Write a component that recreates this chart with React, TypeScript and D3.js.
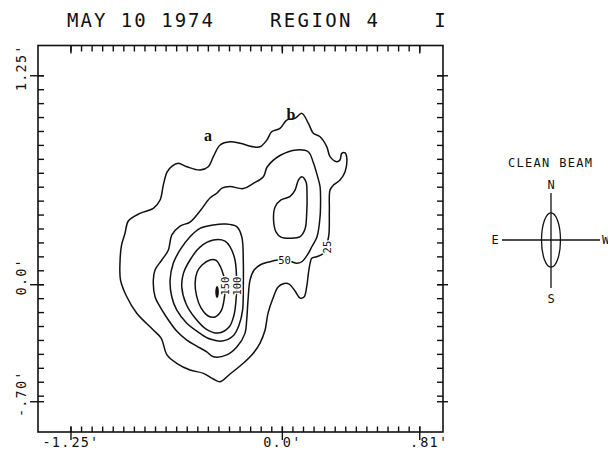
import React from "react";
import * as d3 from "d3";

// ---------- text ----------
const titleDate = "MAY 10 1974";
const titleRegion = "REGION 4";
const titlePanel = "I";
const beamTitle = "CLEAN BEAM";
const beamDirs = ["N", "S", "E", "W"];

// ---------- axes (arc-minutes) ----------
const xMajorTicks = [-1.25, 0.0, 0.8125];
const xMajorLabels = ["-1.25'", "0.0'", ".81'"];
const yMajorTicks = [1.25, 0.0, -0.7];
const yMajorLabels = ["1.25'", "0.0'", "-.70'"];
const xMinorStep = 0.0625;
const yMinorStep = 1 / 12;

// ---------- beam (arc-minutes, full widths) ----------
const beamMajor = 0.325;
const beamMinor = 0.112;

// ---------- contours (x, y in arc-minutes) ----------
const contour25: [number, number][] = [
  [-0.96, 0.136], [-0.951, 0.237], [-0.93, 0.309], [-0.911, 0.381], [-0.842, 0.427],
  [-0.763, 0.457], [-0.723, 0.507], [-0.704, 0.596], [-0.682, 0.674], [-0.652, 0.71],
  [-0.615, 0.726], [-0.565, 0.706], [-0.487, 0.686], [-0.438, 0.706], [-0.408, 0.766],
  [-0.368, 0.836], [-0.309, 0.855], [-0.25, 0.846], [-0.172, 0.825], [-0.132, 0.825],
  [-0.092, 0.865], [-0.063, 0.915], [-0.014, 0.935], [0.026, 0.985], [0.075, 0.995],
  [0.115, 1.025], [0.154, 0.965], [0.183, 0.906], [0.223, 0.885], [0.263, 0.825],
  [0.282, 0.766], [0.322, 0.736], [0.341, 0.746], [0.351, 0.786], [0.371, 0.789],
  [0.381, 0.758], [0.371, 0.676], [0.341, 0.626], [0.302, 0.596], [0.282, 0.566],
  [0.278, 0.447], [0.276, 0.307], [0.268, 0.261], [0.242, 0.188], [0.203, 0.167],
  [0.174, 0.158], [0.164, 0.128], [0.154, 0.068], [0.144, -0.012], [0.128, -0.074],
  [0.105, -0.08], [0.075, -0.038], [0.04, 0.004], [0.01, 0.007], [-0.025, -0.014],
  [-0.055, -0.08], [-0.085, -0.171], [-0.102, -0.271], [-0.132, -0.349], [-0.172, -0.41],
  [-0.231, -0.47], [-0.309, -0.534], [-0.368, -0.58], [-0.408, -0.564], [-0.467, -0.53],
  [-0.546, -0.51], [-0.625, -0.47], [-0.682, -0.42], [-0.717, -0.319], [-0.763, -0.271],
  [-0.861, -0.171], [-0.92, -0.072], [-0.957, 0.028],
];

const contour50: [number, number][] = [
  [-0.763, 0.028], [-0.753, 0.088], [-0.713, 0.148], [-0.674, 0.208], [-0.654, 0.297],
  [-0.605, 0.351], [-0.546, 0.375], [-0.487, 0.441], [-0.428, 0.519], [-0.388, 0.547],
  [-0.357, 0.578], [-0.309, 0.587], [-0.231, 0.575], [-0.172, 0.606], [-0.112, 0.646],
  [-0.09, 0.704], [-0.014, 0.773], [0.085, 0.806], [0.154, 0.794], [0.182, 0.734],
  [0.203, 0.666], [0.223, 0.586], [0.226, 0.507], [0.223, 0.407], [0.205, 0.287],
  [0.174, 0.227], [0.154, 0.188], [0.117, 0.139], [0.085, 0.128], [0.051, 0.139],
  [0.016, 0.148], [-0.025, 0.148], [-0.073, 0.138], [-0.132, 0.118], [-0.167, 0.088],
  [-0.191, 0.028], [-0.203, -0.092], [-0.211, -0.211], [-0.221, -0.291], [-0.268, -0.371],
  [-0.329, -0.42], [-0.408, -0.431], [-0.447, -0.402], [-0.506, -0.367], [-0.565, -0.331],
  [-0.625, -0.277], [-0.684, -0.196], [-0.723, -0.133], [-0.753, -0.072],
];

const contour50b: [number, number][] = [
  [0.115, 0.646], [0.095, 0.626], [0.075, 0.566], [0.046, 0.528], [-0.008, 0.507],
  [-0.043, 0.465], [-0.052, 0.387], [-0.037, 0.315], [-0.008, 0.285], [0.046, 0.278],
  [0.105, 0.287], [0.134, 0.333], [0.144, 0.427], [0.146, 0.536], [0.14, 0.614],
];

const contour75: [number, number][] = [
  [-0.664, 0.028], [-0.645, 0.128], [-0.605, 0.208], [-0.546, 0.287], [-0.487, 0.337],
  [-0.408, 0.357], [-0.339, 0.363], [-0.27, 0.347], [-0.24, 0.287], [-0.231, 0.148],
  [-0.231, -0.012], [-0.235, -0.151], [-0.256, -0.241], [-0.292, -0.307], [-0.357, -0.337],
  [-0.428, -0.325], [-0.487, -0.291], [-0.565, -0.231], [-0.625, -0.151], [-0.654, -0.072],
];

const contour100: [number, number][] = [
  [-0.595, -0.012], [-0.585, 0.068], [-0.546, 0.148], [-0.487, 0.225], [-0.408, 0.267],
  [-0.339, 0.261], [-0.309, 0.227], [-0.28, 0.148], [-0.27, 0.008], [-0.274, -0.092],
  [-0.286, -0.181], [-0.315, -0.253], [-0.38, -0.289], [-0.451, -0.265], [-0.516, -0.199],
  [-0.569, -0.115],
];

const contour150: [number, number][] = [
  [-0.516, 0.008], [-0.504, 0.076], [-0.475, 0.118], [-0.428, 0.148], [-0.392, 0.145],
  [-0.358, 0.088], [-0.339, 0.008], [-0.345, -0.092], [-0.362, -0.157], [-0.398, -0.193],
  [-0.439, -0.187], [-0.481, -0.139], [-0.507, -0.068],
];

const contours = [contour25, contour50, contour50b, contour75, contour100, contour150];

// peak marker
const peakX = -0.386;
const peakY = -0.044;

// contour labels
const cLabelText = ["25", "50", "100", "150"];
const cLabelX = [0.264, 0.013, -0.268, -0.339];
const cLabelY = [0.225, 0.148, -0.008, -0.008];
const cLabelVertical = [true, false, true, true];

// component labels
const compText = ["a", "b"];
const compX = [-0.439, 0.051];
const compY = [0.859, 0.985];

// ---------- layout ----------
const W = 608;
const H = 464;
const FRAME = { left: 38, right: 443, top: 45.5, bottom: 432 };
const X_DOMAIN: [number, number] = [-1.445, 0.95];
const Y_DOMAIN: [number, number] = [-0.881, 1.431];
const MONO = "'DejaVu Sans Mono', monospace";

export default function App() {
  const x = d3.scaleLinear().domain(X_DOMAIN).range([FRAME.left, FRAME.right]);
  const y = d3.scaleLinear().domain(Y_DOMAIN).range([FRAME.bottom, FRAME.top]);

  const line = d3
    .line<[number, number]>()
    .x((d) => x(d[0]))
    .y((d) => y(d[1]))
    .curve(d3.curveCatmullRomClosed.alpha(0.5));

  const xMinor = d3.range(xMajorTicks[0], xMajorTicks[2] + 1e-6, xMinorStep);
  const yMinor = d3.range(yMajorTicks[0], yMajorTicks[2] - 1e-6, -yMinorStep);

  const kx = Math.abs(x(1) - x(0));
  const ky = Math.abs(y(1) - y(0));

  // beam
  const bcx = 551;
  const bcy = 240;

  return (
    <svg
      width={W}
      height={H}
      style={{ position: "absolute", left: 0, top: 0, background: "#fff" }}
      fontFamily={MONO}
    >
      <rect width={W} height={H} fill="#fff" />
      {/* title */}
      <text x={67} y={27} fontSize={19} textLength={146} lengthAdjust="spacing" fill="#111">
        {titleDate}
      </text>
      <text x={270} y={27} fontSize={19} textLength={108} lengthAdjust="spacing" fill="#111">
        {titleRegion}
      </text>
      <text x={440} y={27} fontSize={19} textAnchor="middle" fill="#111">
        {titlePanel}
      </text>

      {/* frame */}
      <rect
        x={FRAME.left}
        y={FRAME.top}
        width={FRAME.right - FRAME.left}
        height={FRAME.bottom - FRAME.top}
        fill="none"
        stroke="#111"
        strokeWidth={1.6}
      />
      {/* x minor ticks */}
      {xMinor.map((v, i) => (
        <g key={"xm" + i} stroke="#111" strokeWidth={1.4}>
          <line x1={x(v)} x2={x(v)} y1={FRAME.bottom} y2={FRAME.bottom - 5.5} />
          <line x1={x(v)} x2={x(v)} y1={FRAME.top} y2={FRAME.top + 6} />
        </g>
      ))}
      {xMajorTicks.map((v, i) => (
        <g key={"xM" + i} stroke="#111" strokeWidth={1.4}>
          <line x1={x(v)} x2={x(v)} y1={FRAME.bottom + 8} y2={FRAME.bottom - 5.5} />
          <line x1={x(v)} x2={x(v)} y1={FRAME.top} y2={FRAME.top + 8} />
        </g>
      ))}
      {/* y minor ticks */}
      {yMinor.map((v, i) => (
        <g key={"ym" + i} stroke="#111" strokeWidth={1.4}>
          <line x1={FRAME.left} x2={FRAME.left + 6} y1={y(v)} y2={y(v)} />
          <line x1={FRAME.right} x2={FRAME.right - 6} y1={y(v)} y2={y(v)} />
        </g>
      ))}
      {yMajorTicks.map((v, i) => (
        <g key={"yM" + i} stroke="#111" strokeWidth={1.4}>
          <line x1={FRAME.left - 8} x2={FRAME.left + 6} y1={y(v)} y2={y(v)} />
          <line x1={FRAME.right + 5} x2={FRAME.right - 6} y1={y(v)} y2={y(v)} />
        </g>
      ))}

      {/* x labels: aligned on the decimal point */}
      {xMajorTicks.map((v, i) => {
        const s = xMajorLabels[i];
        const k = s.indexOf(".") + 1;
        return (
          <g key={"xl" + i} fontSize={13.5} fill="#111">
            <text x={x(v) - 0.5} y={447} textAnchor="end" letterSpacing={1.2}>
              {s.slice(0, k)}
            </text>
            <text x={x(v) + 0.5} y={447} textAnchor="start" letterSpacing={1.2}>
              {s.slice(k)}
            </text>
          </g>
        );
      })}
      {/* y labels */}
      {yMajorTicks.map((v, i) => (
        <text
          key={"yl" + i}
          transform={`translate(26,${y(v) - 8}) rotate(-90)`}
          textAnchor="middle"
          fontSize={13.5}
          letterSpacing={1.2}
          fill="#111"
        >
          {yMajorLabels[i]}
        </text>
      ))}

      {/* contours */}
      {contours.map((c, i) => (
        <path key={"c" + i} d={line(c) || ""} fill="none" stroke="#111" strokeWidth={1.5} />
      ))}
      <ellipse cx={x(peakX)} cy={y(peakY)} rx={1.8} ry={6} fill="#111" />

      {/* contour labels */}
      {cLabelText.map((t, i) => (
        <text
          key={"cl" + i}
          transform={
            cLabelVertical[i]
              ? `translate(${x(cLabelX[i])},${y(cLabelY[i])}) rotate(-90)`
              : `translate(${x(cLabelX[i])},${y(cLabelY[i])})`
          }
          textAnchor="middle"
          dominantBaseline="central"
          fontSize={10.5}
          fill="#111"
          stroke="#fff"
          strokeWidth={2.5}
          paintOrder="stroke"
        >
          {t}
        </text>
      ))}
      {compText.map((t, i) => (
        <text
          key={"cp" + i}
          x={x(compX[i])}
          y={y(compY[i])}
          textAnchor="middle"
          fontFamily="'Liberation Serif', serif"
          fontSize={16}
          fontWeight="bold"
          fill="#111"
        >
          {t}
        </text>
      ))}

      {/* clean beam */}
      <text x={550} y={167} fontSize={12} textAnchor="middle" textLength={84} lengthAdjust="spacing" fill="#111">
        {beamTitle}
      </text>
      <g stroke="#111" strokeWidth={1.3} fill="none">
        <line x1={bcx} x2={bcx} y1={193} y2={288} />
        <line x1={502} x2={600} y1={bcy} y2={bcy} />
        <ellipse cx={bcx} cy={bcy} rx={(beamMinor * kx) / 2} ry={(beamMajor * ky) / 2} />
      </g>
      <g fontSize={12} fill="#111" textAnchor="middle">
        <text x={bcx} y={189}>{beamDirs[0]}</text>
        <text x={bcx} y={303}>{beamDirs[1]}</text>
        <text x={495} y={244}>{beamDirs[2]}</text>
        <text x={602} y={244} textAnchor="start">{beamDirs[3]}</text>
      </g>
    </svg>
  );
}
